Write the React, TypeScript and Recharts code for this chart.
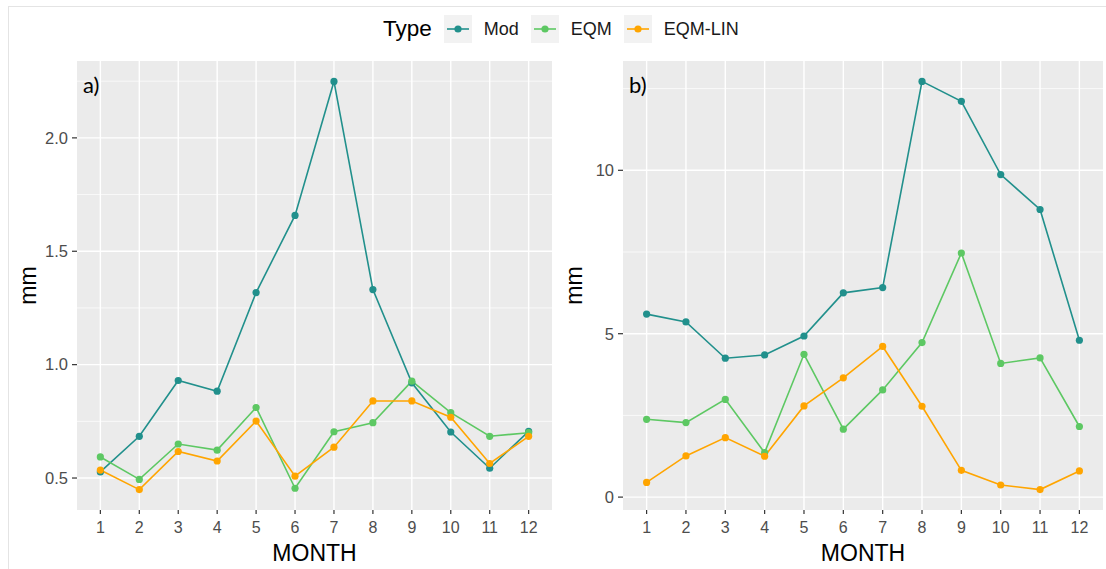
import { LineChart, Line, XAxis, YAxis, CartesianGrid, Label } from 'recharts'

const months = [1, 2, 3, 4, 5, 6, 7, 8, 9, 10, 11, 12]

// panel a)
const modA = [0.527, 0.684, 0.93, 0.883, 1.318, 1.658, 2.249, 1.331, 0.92, 0.703, 0.543, 0.706]
const eqmA = [0.593, 0.494, 0.65, 0.623, 0.811, 0.455, 0.704, 0.744, 0.927, 0.788, 0.684, 0.7]
const linA = [0.535, 0.449, 0.617, 0.575, 0.751, 0.508, 0.636, 0.84, 0.84, 0.768, 0.564, 0.684]
const ticksA = [0.5, 1.0, 1.5, 2.0]
const minorA = [0.75, 1.25, 1.75, 2.25]

// panel b)
const modB = [5.6, 5.36, 4.25, 4.35, 4.93, 6.25, 6.41, 12.72, 12.11, 9.87, 8.8, 4.8]
const eqmB = [2.38, 2.28, 2.99, 1.36, 4.37, 2.08, 3.28, 4.73, 7.47, 4.09, 4.26, 2.16]
const linB = [0.45, 1.26, 1.82, 1.25, 2.79, 3.65, 4.61, 2.78, 0.82, 0.37, 0.23, 0.8]
const ticksB = [0, 5, 10]
const minorB = [2.5, 7.5, 12.5]

const types = ['Mod', 'EQM', 'EQM-LIN']
const colors = ['#21908C', '#5DC863', '#FFA500']

const FONT = '"Liberation Sans", Arial, sans-serif'

// ggplot-style 5% expansion around the data range
function expand(series: number[][]): [number, number] {
  const all = series.flat()
  const lo = Math.min(...all)
  const hi = Math.max(...all)
  const pad = (hi - lo) * 0.05
  return [lo - pad, hi + pad]
}

function buildRows(mod: number[], eqm: number[], lin: number[]) {
  return months.map((m, i) => ({ month: m, Mod: mod[i], EQM: eqm[i], 'EQM-LIN': lin[i] }))
}

type PanelProps = {
  tag: string
  left: number
  width: number
  axisWidth: number
  rightPad: number
  mod: number[]
  eqm: number[]
  lin: number[]
  ticks: number[]
  minor: number[]
  fmt: (v: number) => string
}

function Panel({ tag, left, width, axisWidth, rightPad, mod, eqm, lin, ticks, minor, fmt }: PanelProps) {
  const rows = buildRows(mod, eqm, lin)
  const domain = expand([mod, eqm, lin])
  return (
    <div style={{ position: 'absolute', left, top: 0 }}>
      <LineChart
        width={width}
        height={569}
        data={rows}
        margin={{ top: 61, right: rightPad, bottom: 0, left: 0 }}
      >
        <CartesianGrid
          fill="#EBEBEB"
          stroke="#FFFFFF"
          strokeWidth={0.7}
          vertical={false}
          horizontalValues={minor}
        />
        <CartesianGrid
          stroke="#FFFFFF"
          strokeWidth={1.4}
          horizontalValues={ticks}
          verticalValues={months}
        />
        <XAxis
          dataKey="month"
          type="number"
          domain={[0.4, 12.6]}
          ticks={months}
          interval={0}
          allowDataOverflow
          height={59}
          axisLine={false}
          tickSize={4}
          tickMargin={8}
          tickLine={{ stroke: '#333333', strokeWidth: 1.2 }}
          tick={{ fill: '#4D4D4D', fontSize: 16, fontFamily: FONT }}
        >
          <Label
            value="MONTH"
            position="insideBottom"
            offset={8}
            style={{ fill: '#000', fontSize: 23, fontFamily: FONT }}
          />
        </XAxis>
        <YAxis
          type="number"
          domain={domain}
          ticks={ticks}
          allowDataOverflow
          width={axisWidth}
          axisLine={false}
          tickSize={5}
          tickMargin={4}
          tickFormatter={fmt}
          tickLine={{ stroke: '#333333', strokeWidth: 1.2 }}
          tick={{ fill: '#4D4D4D', fontSize: 16.5, fontFamily: FONT }}
        >
          <Label
            value="mm"
            angle={-90}
            position="insideLeft"
            offset={axisWidth - 49}
            style={{ fill: '#000', fontSize: 23, fontFamily: FONT, textAnchor: 'middle' }}
          />
        </YAxis>
        {types.map((t, i) => (
          <Line
            key={t}
            type="linear"
            dataKey={t}
            stroke={colors[i]}
            strokeWidth={1.6}
            dot={{ r: 3.6, fill: colors[i], stroke: colors[i], strokeWidth: 0 }}
            activeDot={false}
            isAnimationActive={false}
          />
        ))}
      </LineChart>
      <div
        style={{
          position: 'absolute',
          left: axisWidth + 6,
          top: 71,
          fontFamily: 'Lato, "Open Sans", sans-serif',
          fontSize: 22,
          color: '#000',
        }}
      >
        {tag}
      </div>
    </div>
  )
}

function LegendKey({ color }: { color: string }) {
  return (
    <svg width={28} height={28} style={{ display: 'block' }}>
      <rect x={0} y={0} width={28} height={28} fill="#F2F2F2" />
      <line x1={3} x2={25} y1={14} y2={14} stroke={color} strokeWidth={1.6} />
      <circle cx={14} cy={14} r={3.6} fill={color} />
    </svg>
  )
}

export default function App() {
  return (
    <div
      style={{
        position: 'absolute',
        left: 0,
        top: 0,
        width: 1106,
        height: 569,
        background: '#fff',
        overflow: 'hidden',
        fontFamily: FONT,
      }}
    >
      <div
        style={{
          position: 'absolute',
          left: 8,
          top: 6,
          width: 1110,
          height: 580,
          borderLeft: '1px solid #E4E4E4',
          borderTop: '1px solid #E4E4E4',
        }}
      />
      <Panel
        tag="a)"
        left={0}
        width={560}
        axisWidth={77}
        rightPad={8}
        mod={modA}
        eqm={eqmA}
        lin={linA}
        ticks={ticksA}
        minor={minorA}
        fmt={(v) => v.toFixed(1)}
      />
      <Panel
        tag="b)"
        left={560}
        width={546}
        axisWidth={63}
        rightPad={3}
        mod={modB}
        eqm={eqmB}
        lin={linB}
        ticks={ticksB}
        minor={minorB}
        fmt={(v) => String(v)}
      />
      {/* shared legend on top */}
      <div
        style={{
          position: 'absolute',
          left: 383,
          top: 15,
          height: 28,
          display: 'flex',
          alignItems: 'center',
        }}
      >
        <span style={{ fontSize: 22.5, marginRight: 12 }}>Type</span>
        {types.map((t, i) => (
          <div key={t} style={{ display: 'flex', alignItems: 'center', marginRight: 12 }}>
            <LegendKey color={colors[i]} />
            <span style={{ fontSize: 18, marginLeft: 12, color: '#1A1A1A' }}>{t}</span>
          </div>
        ))}
      </div>
    </div>
  )
}
